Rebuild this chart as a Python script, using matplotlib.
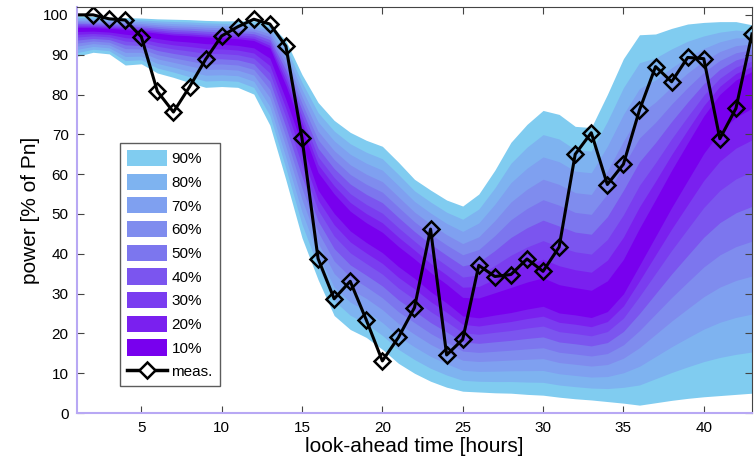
import numpy as np
import matplotlib
matplotlib.use("Agg")
import matplotlib.pyplot as plt
from matplotlib.lines import Line2D
from matplotlib.patches import Patch

plt.rcParams['font.family'] = ['Liberation Sans', 'DejaVu Sans']

hours = list(range(1, 44))
meas = [100, 100, 99, 98.7, 94.5, 80.8, 75.6, 81.9, 88.8, 94.7, 97.0, 98.9, 97.7,
        92.1, 69.0, 38.8, 28.7, 33.1, 23.4, 13.1, 19.0, 26.5, 46.2, 14.6, 18.5,
        37.1, 34.3, 34.8, 38.7, 35.6, 41.7, 65.0, 70.4, 57.4, 62.5, 76.1, 87.0,
        83.2, 89.3, 89.0, 68.9, 76.5, 95.2]
upper90 = [99.8, 99.6, 99.4, 99.3, 99.2, 99.0, 98.9, 98.8, 98.6, 98.5, 98.5, 98.5,
           97.8, 93.5, 85.0, 78.0, 73.5, 70.5, 68.5, 67.0, 63.0, 58.7, 56.0, 53.5,
           52.0, 55.0, 61.0, 68.0, 72.5, 76.0, 75.0, 72.0, 71.7, 80.0, 89.0, 95.0,
           95.2, 96.6, 97.7, 98.1, 98.3, 98.3, 97.5]
lower90 = [89.6, 90.6, 90.2, 87.4, 87.7, 85.4, 84.3, 83.0, 81.8, 82.0, 81.8, 80.1,
           72.3, 58.5, 44.0, 33.5, 24.5, 21.0, 19.0, 16.0, 12.5, 10.0, 8.0, 6.5,
           5.5, 5.3, 5.1, 5.0, 4.7, 4.5, 4.0, 3.6, 3.3, 2.9, 2.5, 2.0, 2.6, 3.2,
           3.7, 4.1, 4.4, 4.7, 5.0]
median = [96.5, 96.5, 96.3, 96.0, 95.5, 95.0, 94.5, 94.3, 94.0, 93.8, 93.5, 93.0,
          91.0, 81.0, 70.0, 58.5, 53.0, 48.5, 45.5, 43.0, 39.5, 36.5, 33.0, 30.0,
          26.5, 26.0, 26.8, 27.5, 28.5, 29.3, 27.5, 27.0, 26.3, 28.0, 33.0, 41.0,
          49.0, 57.0, 64.5, 72.0, 78.0, 82.0, 84.5]
levels = ['90%', '80%', '70%', '60%', '50%', '40%', '30%', '20%', '10%']
edge_frac = [1.0, 0.87, 0.75, 0.63, 0.52, 0.41, 0.30, 0.20, 0.10]
colors = ['#80CCF0', '#7EB3F0', '#7FA0F0', '#7F8CEE', '#7C76EE',
          '#7B55EF', '#7A3DF0', '#7A20EF', '#7800EE']

h = np.array(hours, dtype=float)
U = np.array(upper90); L = np.array(lower90); M = np.array(median)

fig = plt.figure(figsize=(7.55, 4.59), dpi=100)
ax = fig.add_axes([0.102, 0.100, 0.894, 0.885])

handles = []
for lab, f, c in zip(levels, edge_frac, colors):
    hi = M + f * (U - M)
    lo = M - f * (M - L)
    ax.fill_between(h, lo, hi, color=c, linewidth=0)
    handles.append(Patch(facecolor=c, edgecolor='none', label=lab))

ax.plot(h, meas, color='black', lw=2.2, marker='D', ms=8, mfc='none', mec='black',
        mew=1.8, markevery=list(range(1, len(hours))))
handles.append(Line2D([0], [0], color='black', lw=2.5, marker='D', ms=8, mfc='white',
                      mec='black', mew=1.8, label='meas.'))

ax.set_xlim(1, 43)
ax.set_ylim(0, 102)
ax.set_xticks([5, 10, 15, 20, 25, 30, 35, 40])
ax.set_yticks(range(0, 101, 10))
ax.tick_params(direction='in', length=5, top=True, right=True, labelsize=11,
               color='#444444', pad=6)
for s in ['top', 'right']:
    ax.spines[s].set_color('#444444')
for s in ['left', 'bottom']:
    ax.spines[s].set_color('#B8A8F4')
    ax.spines[s].set_linewidth(1.5)

ax.set_xlabel('look-ahead time [hours]', fontsize=15, labelpad=1)
ax.set_ylabel('power [% of Pn]', fontsize=15, labelpad=2)

leg = ax.legend(handles=handles, loc='lower left', bbox_to_anchor=(0.064, 0.066),
                fontsize=11, frameon=True, fancybox=False, edgecolor='#333333',
                handlelength=2.6, handleheight=1.25, labelspacing=0.49,
                handletextpad=0.3, borderpad=0.45, borderaxespad=0)
leg.get_frame().set_linewidth(1.0)

fig.savefig('out.png', dpi=100)
